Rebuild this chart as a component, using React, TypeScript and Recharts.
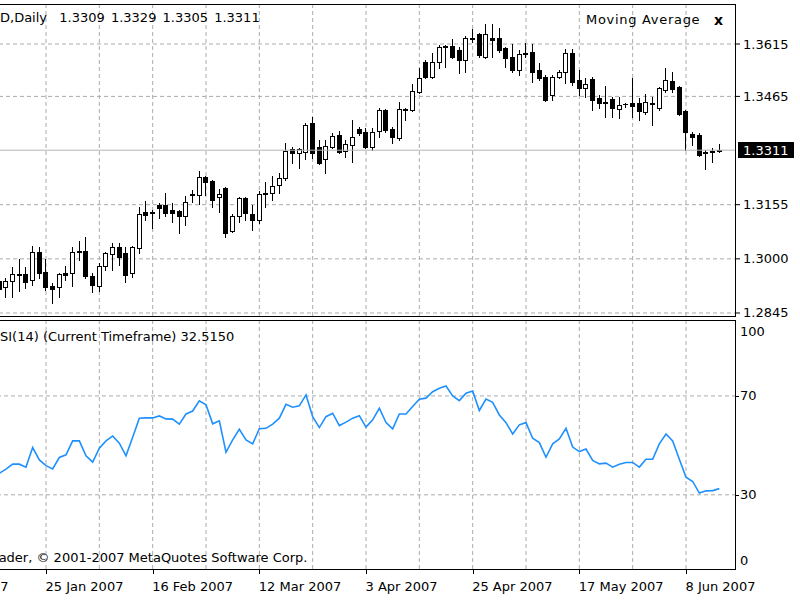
import {
  ComposedChart,
  Bar,
  Line,
  XAxis,
  YAxis,
  CartesianGrid,
  ReferenceLine,
} from "recharts";

const FONT = '"DejaVu Sans", sans-serif';
const GRID = "#ababab";

const MONTHS = ["Jan", "Feb", "Mar", "Apr", "May", "Jun", "Jul", "Aug", "Sep", "Oct", "Nov", "Dec"];

// weekday sessions on the time axis, starting 3 Jan 2007
function weekdays(from: [number, number, number], count: number) {
  const out: string[] = [];
  const d = new Date(Date.UTC(from[0], from[1], from[2]));
  while (out.length < count) {
    const dow = d.getUTCDay();
    if (dow !== 0 && dow !== 6) {
      out.push(`${d.getUTCDate()} ${MONTHS[d.getUTCMonth()]} ${d.getUTCFullYear()}`);
    }
    d.setUTCDate(d.getUTCDate() + 1);
  }
  return out;
}

const sessions = weekdays([2007, 0, 3], 120);
const firstCandle = 9; // 16 Jan 2007 is the first bar on screen

// daily bars, [open, high, low, close], 16 Jan - 15 Jun 2007
const ohlc: number[][] = [
  [1.2937, 1.2954, 1.2897, 1.2914],
  [1.2920, 1.2945, 1.2891, 1.2937],
  [1.2937, 1.2977, 1.2891, 1.2957],
  [1.2954, 1.3000, 1.2908, 1.2957],
  [1.2957, 1.2977, 1.2917, 1.2934],
  [1.2940, 1.3037, 1.2925, 1.3020],
  [1.3020, 1.3034, 1.2945, 1.2960],
  [1.2962, 1.3000, 1.2911, 1.2920],
  [1.2922, 1.2931, 1.2874, 1.2914],
  [1.2920, 1.2960, 1.2891, 1.2957],
  [1.2960, 1.2980, 1.2940, 1.2954],
  [1.2960, 1.3034, 1.2922, 1.3020],
  [1.3020, 1.3051, 1.2997, 1.3022],
  [1.3022, 1.3063, 1.2945, 1.2951],
  [1.2951, 1.2960, 1.2905, 1.2925],
  [1.2922, 1.2988, 1.2908, 1.2980],
  [1.2980, 1.3020, 1.2968, 1.3017],
  [1.3014, 1.3045, 1.2968, 1.3034],
  [1.3034, 1.3045, 1.2982, 1.3005],
  [1.3017, 1.3034, 1.2934, 1.2954],
  [1.2960, 1.3037, 1.2948, 1.3034],
  [1.3031, 1.3148, 1.3017, 1.3128],
  [1.3134, 1.3165, 1.3111, 1.3126],
  [1.3131, 1.3140, 1.3088, 1.3134],
  [1.3154, 1.3160, 1.3117, 1.3146],
  [1.3154, 1.3189, 1.3123, 1.3131],
  [1.3140, 1.3160, 1.3106, 1.3131],
  [1.3137, 1.3140, 1.3074, 1.3123],
  [1.3123, 1.3180, 1.3097, 1.3163],
  [1.3183, 1.3197, 1.3163, 1.3186],
  [1.3183, 1.3252, 1.3157, 1.3234],
  [1.3234, 1.3237, 1.3183, 1.3220],
  [1.3223, 1.3226, 1.3148, 1.3168],
  [1.3177, 1.3200, 1.3134, 1.3186],
  [1.3203, 1.3206, 1.3063, 1.3074],
  [1.3080, 1.3128, 1.3077, 1.3123],
  [1.3123, 1.3177, 1.3106, 1.3174],
  [1.3174, 1.3177, 1.3111, 1.3131],
  [1.3128, 1.3154, 1.3083, 1.3111],
  [1.3111, 1.3194, 1.3103, 1.3186],
  [1.3186, 1.3220, 1.3148, 1.3189],
  [1.3189, 1.3237, 1.3168, 1.3209],
  [1.3211, 1.3246, 1.3189, 1.3231],
  [1.3231, 1.3332, 1.3226, 1.3309],
  [1.3314, 1.3320, 1.3275, 1.3303],
  [1.3303, 1.3317, 1.3260, 1.3314],
  [1.3306, 1.3389, 1.3286, 1.3383],
  [1.3389, 1.3406, 1.3289, 1.3303],
  [1.3320, 1.3340, 1.3272, 1.3275],
  [1.3286, 1.3340, 1.3246, 1.3323],
  [1.3320, 1.3360, 1.3317, 1.3352],
  [1.3355, 1.3366, 1.3303, 1.3306],
  [1.3309, 1.3340, 1.3292, 1.3329],
  [1.3326, 1.3398, 1.3277, 1.3349],
  [1.3372, 1.3377, 1.3355, 1.3360],
  [1.3363, 1.3375, 1.3317, 1.3320],
  [1.3320, 1.3375, 1.3312, 1.3363],
  [1.3366, 1.3432, 1.3349, 1.3426],
  [1.3426, 1.3429, 1.3363, 1.3369],
  [1.3372, 1.3377, 1.3332, 1.3349],
  [1.3346, 1.3449, 1.3340, 1.3429],
  [1.3426, 1.3432, 1.3398, 1.3429],
  [1.3426, 1.3501, 1.3423, 1.3481],
  [1.3478, 1.3546, 1.3475, 1.3518],
  [1.3564, 1.3569, 1.3518, 1.3521],
  [1.3521, 1.3589, 1.3518, 1.3564],
  [1.3564, 1.3612, 1.3546, 1.3606],
  [1.3606, 1.3612, 1.3549, 1.3609],
  [1.3609, 1.3629, 1.3575, 1.3578],
  [1.3598, 1.3606, 1.3532, 1.3569],
  [1.3569, 1.3638, 1.3535, 1.3632],
  [1.3632, 1.3658, 1.3621, 1.3629],
  [1.3644, 1.3647, 1.3578, 1.3584],
  [1.3578, 1.3672, 1.3575, 1.3644],
  [1.3632, 1.3672, 1.3578, 1.3626],
  [1.3632, 1.3661, 1.3592, 1.3598],
  [1.3604, 1.3606, 1.3549, 1.3575],
  [1.3578, 1.3615, 1.3535, 1.3541],
  [1.3541, 1.3598, 1.3526, 1.3586],
  [1.3586, 1.3618, 1.3578, 1.3589],
  [1.3592, 1.3615, 1.3506, 1.3535],
  [1.3541, 1.3561, 1.3512, 1.3518],
  [1.3521, 1.3526, 1.3452, 1.3455],
  [1.3469, 1.3526, 1.3455, 1.3521],
  [1.3521, 1.3541, 1.3518, 1.3535],
  [1.3535, 1.3601, 1.3503, 1.3589],
  [1.3589, 1.3601, 1.3498, 1.3506],
  [1.3512, 1.3541, 1.3469, 1.3489],
  [1.3489, 1.3518, 1.3463, 1.3501],
  [1.3515, 1.3521, 1.3426, 1.3455],
  [1.3460, 1.3469, 1.3432, 1.3446],
  [1.3449, 1.3495, 1.3406, 1.3446],
  [1.3458, 1.3463, 1.3406, 1.3432],
  [1.3429, 1.3463, 1.3403, 1.3440],
  [1.3443, 1.3446, 1.3435, 1.3444],
  [1.3446, 1.3518, 1.3406, 1.3438],
  [1.3446, 1.3460, 1.3398, 1.3423],
  [1.3420, 1.3472, 1.3415, 1.3449],
  [1.3446, 1.3463, 1.3383, 1.3443],
  [1.3432, 1.3492, 1.3426, 1.3489],
  [1.3483, 1.3546, 1.3478, 1.3512],
  [1.3509, 1.3535, 1.3478, 1.3486],
  [1.3492, 1.3495, 1.3412, 1.3415],
  [1.3423, 1.3426, 1.3312, 1.3363],
  [1.3357, 1.3363, 1.3326, 1.3349],
  [1.3355, 1.3360, 1.3294, 1.3297],
  [1.3303, 1.3312, 1.3257, 1.3306],
  [1.3306, 1.3317, 1.3277, 1.3309],
  [1.3309, 1.3329, 1.3305, 1.3311],
];

// RSI(14) on the same bars
const rsi14 = [
  38.7, 40.4, 42.4, 42.4, 41.2, 49.1, 44.1, 41.8, 40.5, 45.1,
  46.2, 51.8, 51.8, 45.8, 43.2, 48.9, 51.8, 53.8, 50.9, 45.8,
  53.3, 61.0, 61.1, 61.1, 61.9, 60.7, 60.6, 58.6, 62.7, 63.9,
  68.0, 66.4, 58.7, 59.9, 47.2, 52.2, 56.5, 52.2, 50.6, 56.7,
  56.9, 58.6, 61.0, 66.6, 65.4, 66.0, 70.4, 61.6, 57.2, 61.6,
  63.0, 58.0, 59.4, 61.0, 62.0, 57.4, 60.3, 65.0, 59.2, 56.7,
  62.7, 62.7, 65.7, 68.7, 69.1, 71.7, 73.1, 74.0, 70.0, 68.1,
  71.1, 72.0, 64.1, 68.7, 67.4, 62.3, 59.2, 54.6, 58.3, 59.2,
  52.9, 51.1, 45.2, 50.6, 52.6, 56.9, 49.3, 47.5, 48.5, 43.9,
  42.5, 42.8, 41.2, 42.4, 43.1, 43.1, 41.2, 44.4, 44.4, 50.6,
  54.6, 51.8, 44.4, 37.1, 35.4, 30.7, 31.6, 31.7, 32.5,
];

const priceTicks = [1.2845, 1.3, 1.3155, 1.3465, 1.3615];
const priceDomain = [1.28364, 1.37295];
const lastPrice = 1.3311;
const rsiTicks = [0, 30, 70, 100];
const rsiLevels = [30, 70];
const gridTicks = sessions.filter((_, i) => i % 8 === 0);
const labelTicks = sessions.filter((_, i) => i % 16 === 0);

const data = sessions.map((date, k) => {
  const bar = ohlc[k - firstCandle];
  const r = rsi14[k - firstCandle];
  return {
    date,
    open: bar ? bar[0] : null,
    high: bar ? bar[1] : null,
    low: bar ? bar[2] : null,
    close: bar ? bar[3] : null,
    range: bar ? [bar[2], bar[1]] : null,
    rsi: r ?? null,
  };
});

function Candle(props: any) {
  const { x, y, width, height, payload } = props;
  if (!payload || !payload.range || !isFinite(y) || !isFinite(height)) return <g />;
  const { open, high, low, close } = payload;
  const toY = (v: number) => y + ((high - v) / (high - low)) * height;
  const cx = Math.floor(x + width / 2) + 0.5;
  const top = Math.round(toY(Math.max(open, close))) + 0.5;
  const bottom = Math.round(toY(Math.min(open, close))) + 0.5;
  const up = close >= open;
  return (
    <g>
      <line x1={cx} x2={cx} y1={Math.round(y)} y2={Math.round(y + height) + 1} stroke="#000" />
      {bottom - top < 1 ? (
        <line x1={cx - 2.5} x2={cx + 2.5} y1={top} y2={top} stroke="#000" />
      ) : (
        <rect x={cx - 2} y={top} width={4} height={bottom - top} fill={up ? "#fff" : "#000"} stroke="#000" />
      )}
    </g>
  );
}

function EmptyTick() {
  return <g />;
}

function PriceTick({ x, y, payload }: any) {
  return (
    <text x={x} y={y} dy={4.5} fontSize={13} fontFamily={FONT} fill="#000">
      {Number(payload.value).toFixed(4)}
    </text>
  );
}

function RsiTick({ x, y, payload }: any) {
  const v = payload.value;
  const shift = v === 100 ? 10 : v === 0 ? -9 : 0;
  const ly = Math.round(y) + 0.5;
  return (
    <g>
      {rsiLevels.includes(v) && <line x1={x - 4} x2={x - 1} y1={ly} y2={ly} stroke="#000" />}
      <text x={x} y={y + shift} dy={4.5} fontSize={13} fontFamily={FONT} fill="#000">
        {v}
      </text>
    </g>
  );
}

function DateTick({ x, y, payload }: any) {
  if (!labelTicks.includes(payload.value)) return <g />;
  const lx = Math.round(x) + 0.5;
  return (
    <g>
      <line x1={lx} x2={lx} y1={y} y2={y + 5} stroke="#000" />
      <text x={x - 0.5} y={y + 21.5} fontSize={13} fontFamily={FONT} fill="#000">
        {payload.value}
      </text>
    </g>
  );
}

function PriceTag({ viewBox }: any) {
  if (!viewBox) return null;
  const y = Math.round(viewBox.y);
  const x = viewBox.x + viewBox.width;
  return (
    <g>
      <rect x={x + 2} y={y - 8} width={56} height={16} fill="#000" />
      <text x={x + 7} y={y + 4.5} fill="#fff" fontSize={13} fontFamily={FONT}>
        {lastPrice.toFixed(4)}
      </text>
    </g>
  );
}

const noMargin = { top: 0, right: 0, bottom: 0, left: 0 };
const frame = (top: number, height: number) => ({
  position: "absolute" as const,
  left: -2,
  top,
  width: 738,
  height,
  boxSizing: "border-box" as const,
  borderTop: "1px solid #000",
  borderBottom: "1px solid #000",
  borderRight: "1px solid #000",
  pointerEvents: "none" as const,
});
const label = (left: number, top: number) => ({
  position: "absolute" as const,
  left,
  top,
  lineHeight: "16px",
  whiteSpace: "pre" as const,
});

export default function App() {
  return (
    <div
      style={{
        position: "fixed",
        left: 0,
        top: 0,
        width: 800,
        height: 600,
        overflow: "hidden",
        background: "#fff",
        fontFamily: FONT,
        fontSize: 13,
        color: "#000",
      }}
    >
      <div style={{ position: "absolute", left: -64, top: 320 }}>
        <ComposedChart width={860} height={279} data={data} margin={noMargin}>
          <CartesianGrid stroke={GRID} strokeDasharray="4 3" horizontal={false} syncWithTicks />
          <XAxis
            dataKey="date"
            ticks={gridTicks}
            interval={0}
            height={30}
            padding={{ left: 10 / 3, right: 10 / 3 }}
            axisLine={false}
            tickLine={false}
            tickSize={0}
            tickMargin={0}
            tick={DateTick}
          />
          <YAxis
            orientation="right"
            width={60}
            type="number"
            domain={[0, 100.7]}
            allowDataOverflow
            ticks={rsiTicks}
            interval={0}
            axisLine={false}
            tickLine={false}
            tickSize={4}
            tickMargin={0}
            tick={RsiTick}
          />
          {rsiLevels.map((v) => (
            <ReferenceLine key={v} y={v} stroke={GRID} strokeDasharray="4 3" />
          ))}
          <Line
            dataKey="rsi"
            stroke="#1e90ff"
            strokeWidth={1.6}
            dot={false}
            isAnimationActive={false}
          />
        </ComposedChart>
      </div>

      <div style={{ position: "absolute", left: -64, top: 4 }}>
        <ComposedChart width={860} height={322} data={data} margin={noMargin}>
          <CartesianGrid stroke={GRID} strokeDasharray="4 3" syncWithTicks />
          <XAxis
            dataKey="date"
            ticks={gridTicks}
            interval={0}
            height={10}
            axisLine={false}
            tickLine={false}
            tick={EmptyTick}
          />
          <YAxis
            orientation="right"
            width={60}
            type="number"
            domain={priceDomain}
            allowDataOverflow
            ticks={priceTicks}
            interval={0}
            axisLine={false}
            tickSize={4}
            tickMargin={3}
            tickLine={{ stroke: "#000" }}
            tick={PriceTick}
          />
          <ReferenceLine y={lastPrice} stroke="#b4b4b4" label={<PriceTag />} />
          <Bar dataKey="range" shape={Candle} isAnimationActive={false} />
        </ComposedChart>
      </div>

      <div style={frame(4, 313)} />
      <div style={frame(320, 250)} />

      <div style={{ ...label(0, 10), wordSpacing: 2 }}>D,Daily  1.3309 1.3329 1.3305 1.3311</div>
      <div style={{ ...label(586, 12), letterSpacing: 0.7 }}>Moving Average</div>
      <div style={{ ...label(714, 12), fontWeight: "bold", fontSize: 14 }}>x</div>
      <div style={label(-9, 329)}>RSI(14) (Current Timeframe) 32.5150</div>
      <div style={label(-45, 550)}>MetaTrader, © 2001-2007 MetaQuotes Software Corp.</div>
    </div>
  );
}
